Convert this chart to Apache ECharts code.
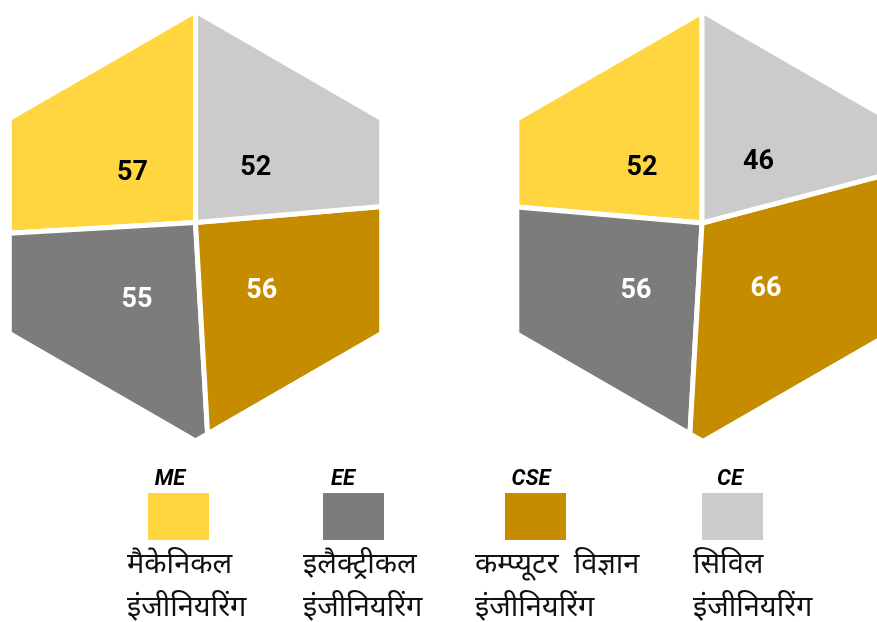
<!DOCTYPE html>
<html>
<head>
<meta charset="utf-8">
<script src="https://cdn.jsdelivr.net/npm/echarts@6.0.0/dist/echarts.min.js"></script>
<style>
  html, body { margin: 0; padding: 0; background: #fff; }
  #main { width: 877px; height: 622px; }
</style>
</head>
<body>
<div id="main"></div>
<script>
// branch codes, hindi names and the two sets of values
var categories = ['ME', 'EE', 'CSE', 'CE'];
var hindiNames = [
  'मैकेनिकल\nइंजीनियरिंग',
  'इलैक्ट्रीकल\nइंजीनियरिंग',
  'कम्प्यूटर  विज्ञान\nइंजीनियरिंग',
  'सिविल\nइंजीनियरिंग'
];
var leftValues = [57, 55, 56, 52];
var rightValues = [52, 56, 66, 46];

var colors = ['#FFD640', '#7C7C7C', '#C68C00', '#CBCBCB'];
var labelColors = ['#000', '#fff', '#fff', '#000'];

var HEX_R = 215;

function hexVertices(hc) {
  var pts = [];
  for (var k = 0; k < 6; k++) {
    var a = (90 + 60 * k) * Math.PI / 180;
    pts.push([hc[0] + HEX_R * Math.cos(a), hc[1] - HEX_R * Math.sin(a)]);
  }
  return pts;
}

// where a ray from the pie center meets the hexagon border
function rayHit(pc, hex, deg) {
  var a = deg * Math.PI / 180;
  var dx = Math.cos(a), dy = -Math.sin(a);
  var best = null;
  for (var k = 0; k < 6; k++) {
    var p = hex[k], q = hex[(k + 1) % 6];
    var ex = q[0] - p[0], ey = q[1] - p[1];
    var den = dx * ey - dy * ex;
    if (Math.abs(den) < 1e-9) continue;
    var wx = p[0] - pc[0], wy = p[1] - pc[1];
    var t = (wx * ey - wy * ex) / den;
    var s = (wx * dy - wy * dx) / den;
    if (t > 0 && s >= -1e-6 && s <= 1 + 1e-6) {
      if (best === null || t < best.t) best = {t: t, pt: [pc[0] + t * dx, pc[1] + t * dy]};
    }
  }
  return best.pt;
}

function slicePolygon(pc, hc, a0, a1) {
  var hex = hexVertices(hc);
  var pts = [pc.slice(), rayHit(pc, hex, a0)];
  var inner = [];
  hex.forEach(function (v) {
    var ang = Math.atan2(-(v[1] - pc[1]), v[0] - pc[0]) * 180 / Math.PI;
    while (ang < a0) ang += 360;
    if (ang > a0 + 1e-6 && ang < a1 - 1e-6) inner.push({ang: ang, v: v});
  });
  inner.sort(function (m, n) { return m.ang - n.ang; });
  inner.forEach(function (o) { pts.push(o.v); });
  pts.push(rayHit(pc, hex, a1));
  return pts;
}

function centroid(pts) {
  var A = 0, cx = 0, cy = 0;
  for (var i = 0; i < pts.length; i++) {
    var p = pts[i], q = pts[(i + 1) % pts.length];
    var c = p[0] * q[1] - q[0] * p[1];
    A += c; cx += (p[0] + q[0]) * c; cy += (p[1] + q[1]) * c;
  }
  return [cx / (3 * A), cy / (3 * A)];
}

function hexPie(values, pc, hc) {
  var total = values.reduce(function (s, v) { return s + v; }, 0);
  return function (params, api) {
    var i = params.dataIndex;
    var before = 0;
    for (var j = 0; j < i; j++) before += values[j];
    var a0 = 90 + before / total * 360;
    var a1 = a0 + api.value(0) / total * 360;
    var pts = slicePolygon(pc, hc, a0, a1);
    var c = centroid(pts);
    var lx = pc[0] + (c[0] - pc[0]) * 0.75;
    var ly = pc[1] + (c[1] - pc[1]) * 0.75 + 10;
    return {
      type: 'group',
      children: [{
        type: 'polygon',
        shape: {points: pts},
        style: {fill: colors[i], stroke: '#fff', lineWidth: 5, lineJoin: 'round'}
      }, {
        type: 'text',
        x: lx, y: ly,
        style: {
          text: String(api.value(0)),
          fill: labelColors[i],
          font: 'bold 27px Roboto',
          align: 'center',
          verticalAlign: 'middle'
        }
      }]
    };
  };
}

// legend drawn with graphic elements
var titleX = [170, 343, 531, 730];
var boxX = [148, 323, 505, 702];
var nameX = [127, 303, 475, 693];
var legendGraphics = [];
categories.forEach(function (cat, i) {
  legendGraphics.push({
    type: 'text', x: titleX[i], y: 479,
    style: {text: cat, font: 'italic bold 22px Roboto', fill: '#000', align: 'center', verticalAlign: 'middle'}
  });
  legendGraphics.push({
    type: 'rect', shape: {x: boxX[i], y: 493, width: 61, height: 47},
    style: {fill: colors[i]}
  });
  legendGraphics.push({
    type: 'text', x: nameX[i], y: 546,
    style: {
      text: hindiNames[i], fill: '#111',
      font: '29px "Noto Sans Devanagari", "Lohit Devanagari", "Noto Sans", sans-serif',
      lineHeight: 43, align: 'left', verticalAlign: 'top'
    }
  });
});

var chart = echarts.init(document.getElementById('main'));
chart.setOption({
  backgroundColor: '#fff',
  animation: false,
  graphic: legendGraphics,
  series: [{
    type: 'custom',
    name: 'left',
    coordinateSystem: 'none',
    renderItem: hexPie(leftValues, [195.5, 222.5], [195.5, 226]),
    data: leftValues
  }, {
    type: 'custom',
    name: 'right',
    coordinateSystem: 'none',
    renderItem: hexPie(rightValues, [702, 223], [703, 226.5]),
    data: rightValues
  }]
});
</script>
</body>
</html>
